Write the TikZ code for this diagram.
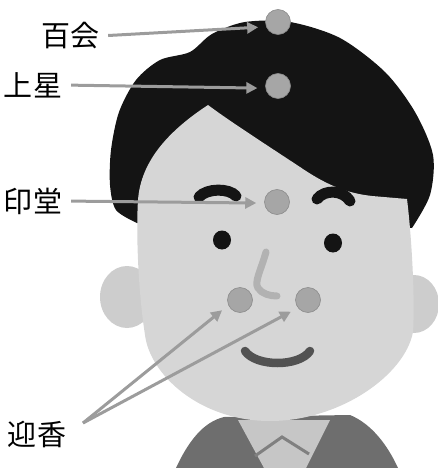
\documentclass[tikz,border=0pt]{standalone}
\usepackage{xcolor}
\usepackage{fontspec}
\usepackage{tikz}
\usetikzlibrary{arrows.meta,positioning}
\newfontfamily\cjk{Noto Sans CJK JP}
\definecolor{hairblack}{HTML}{141414}
\definecolor{skin}{HTML}{D6D6D6}
\definecolor{earskin}{HTML}{CDCDCD}
\definecolor{jacket}{HTML}{6E6E6E}
\definecolor{shirt}{HTML}{C6C6C6}
\definecolor{pointgray}{HTML}{A6A6A6}
\definecolor{arrowgray}{HTML}{9C9C9C}

\begin{document}
\begin{tikzpicture}[x=1pt,y=-1pt,>={Triangle[length=11pt,width=11pt]}]
	\tikzstyle{acuname} = [font=\cjk\fontsize{29}{31}\selectfont, text=black, inner sep=0]
	\tikzstyle{acupoint} = [circle, fill=pointgray, draw=black!45, line width=0.6pt, minimum size=25pt, inner sep=0]
	\tikzstyle{pointer} = [->, arrowgray, line width=3pt, shorten <=9pt, shorten >=8pt]
	\tikzstyle{brow} = [hairblack, line width=11pt, line cap=round]
	\useasboundingbox (0,0) rectangle (438,468);
	
	% jacket and shirt
	\fill[jacket] (176,468) .. controls (188,442) and (203,422) .. (224,417) -- (350,415) .. controls (372,424) and (388,446) .. (398,468) -- cycle;
	\fill[shirt] (238,420) -- (330,420) -- (306,468) -- (264,468) -- cycle;
	\draw[black!50, line width=3pt] (255,456) -- (282,437) -- (309,454);
	
	% hair
	\fill[hairblack] plot[smooth] coordinates {(137,223) (116,210) (110,185) (111,150) (119,112) (136,80) (160,60) (190,52) (212,34) (245,22) (290,22) (340,38) (385,72) (415,112) (433,155) (430,195) (412,228)} -- cycle;
	
	% ears
	\fill[earskin] (127,297) ellipse [x radius=27pt, y radius=31pt];
	\fill[earskin] (414,304) ellipse [x radius=25pt, y radius=29pt];
	
	% face with the fringe line on top
	\fill[skin] (208,105) .. controls (228,120) and (262,142) .. (300,167) .. controls (325,184) and (345,193) .. (372,196) -- (407,199) .. controls (412,240) and (415,300) .. (413,332) .. controls (405,375) and (340,421) .. (270,421) .. controls (200,421) and (150,375) .. (145,335) .. controls (138,290) and (136,232) .. (138,200) .. controls (141,160) and (170,130) .. (208,105) -- cycle;
	
	\draw[brow] (199,197) .. controls (207,188) and (229,188) .. (236,196);
	\draw[brow] (317,199) .. controls (325,189) and (343,190) .. (350,201);
	\fill[hairblack] (222,240) ellipse [x radius=9pt, y radius=9.5pt];
	\fill[hairblack] (333,243) ellipse [x radius=9pt, y radius=9.5pt];
	\draw[black!30, line width=7pt, line cap=round] (266,252) .. controls (261,270) and (254,282) .. (258,288) .. controls (262,294) and (270,296) .. (277,296);
	\draw[black!68, line width=8.5pt, line cap=round] (245,351) .. controls (256,367) and (299,367) .. (310,351);
	
	\node[acupoint] (pbaihui) at (278,22) {};
	\node[acupoint] (pshangxing) at (278,86) {};
	\node[acupoint] (pyintang) at (277,202) {};
	\node[acupoint] (pyingl) at (240,300) {};
	\node[acupoint] (pyingr) at (308,300) {};
	
	\node[acuname] (baihui) at (70,36) {百会};
	\node[acuname] (shangxing) at (33,85) {上星};
	\node[acuname] (yintang) at (33,201) {印堂};
	\node[acuname] (yingxiang) at (37,434) {迎香};
	\coordinate (yingfork) at (83,423);
	
	\draw[pointer] (baihui.east) -- (pbaihui.202);
	\draw[pointer] (shangxing.east) -- (pshangxing.190);
	\draw[pointer] (yintang.east) -- (pyintang.185);
	\draw[pointer,shorten <=0pt] (yingfork) -- (pyingl.204);
	\draw[pointer,shorten <=0pt] (yingfork) -- (pyingr.218);
\end{tikzpicture}
\end{document}
